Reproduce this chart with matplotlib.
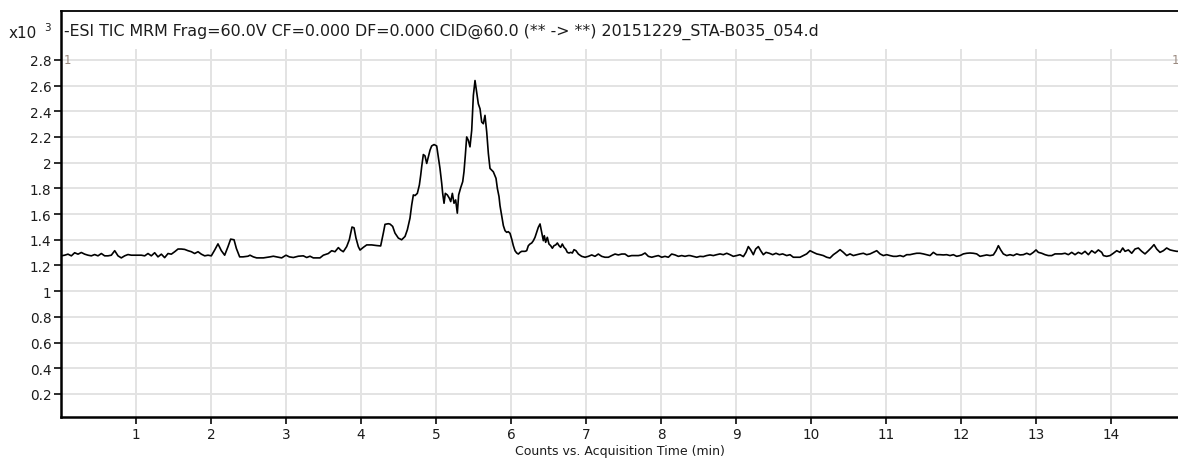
import matplotlib.pyplot as plt

# TIC trace: acquisition time (min) and counts (x10^3)
time_min = [
    0.004, 0.049, 0.093, 0.138, 0.182, 0.227, 0.271, 0.316, 0.36, 0.404,
    0.449, 0.493, 0.538, 0.582, 0.627, 0.671, 0.716, 0.76, 0.804, 0.849,
    0.893, 0.938, 0.982, 1.027, 1.071, 1.116, 1.16, 1.204, 1.249, 1.293,
    1.338, 1.382, 1.427, 1.471, 1.516, 1.56, 1.604, 1.649, 1.693, 1.738,
    1.782, 1.827, 1.871, 1.916, 1.96, 2.004, 2.049, 2.093, 2.138, 2.182,
    2.227, 2.262, 2.307, 2.338, 2.382, 2.427, 2.493,
    2.52, 2.564, 2.609, 2.698, 2.787, 2.831, 2.876, 2.942, 3.0, 3.044,
    3.098, 3.164, 3.231, 3.276, 3.32, 3.364, 3.453, 3.498, 3.564, 3.609,
    3.653, 3.698, 3.729, 3.764, 3.809, 3.844, 3.88, 3.907, 3.933, 3.964,
    3.987, 4.031, 4.076, 4.142, 4.209, 4.262, 4.298, 4.32, 4.364,
    4.387, 4.422, 4.453, 4.498, 4.542, 4.587, 4.618, 4.653, 4.676, 4.698,
    4.72, 4.751, 4.778, 4.796, 4.809, 4.831, 4.853, 4.876, 4.898, 4.92,
    4.942, 4.974, 5.009, 5.031, 5.053, 5.076, 5.089, 5.107, 5.124, 5.151,
    5.178, 5.196, 5.218, 5.24, 5.262, 5.284, 5.302, 5.329, 5.356, 5.373,
    5.391, 5.409, 5.431, 5.453, 5.476, 5.498, 5.52, 5.542, 5.564, 5.587,
    5.609, 5.631, 5.653, 5.676, 5.698, 5.72, 5.764, 5.8, 5.818, 5.84,
    5.853, 5.876, 5.898, 5.92, 5.942, 5.964, 5.987, 6.009, 6.031, 6.053,
    6.076, 6.098, 6.12, 6.142, 6.187, 6.209, 6.231, 6.253, 6.276, 6.298,
    6.32, 6.342, 6.364, 6.387, 6.409, 6.431, 6.444, 6.462, 6.484, 6.506,
    6.529, 6.551, 6.573, 6.596, 6.618, 6.64, 6.662, 6.684, 6.707, 6.729,
    6.751, 6.773, 6.796, 6.818, 6.84, 6.866, 6.898, 6.942, 6.987, 7.031,
    7.076, 7.12, 7.164, 7.209, 7.253, 7.298, 7.342, 7.387, 7.431, 7.476,
    7.52, 7.564, 7.609, 7.653, 7.698, 7.742, 7.787, 7.831, 7.876, 7.92,
    7.964, 8.009, 8.053, 8.098, 8.142, 8.187, 8.231, 8.276, 8.32, 8.364,
    8.387, 8.431, 8.476, 8.52, 8.564, 8.609, 8.653, 8.698, 8.742, 8.787,
    8.831, 8.876, 8.92, 8.964, 9.009, 9.053, 9.098, 9.133, 9.164, 9.196,
    9.231, 9.262, 9.298, 9.329, 9.364, 9.4, 9.444, 9.489, 9.533, 9.578,
    9.622, 9.676, 9.72, 9.764, 9.809, 9.853, 9.898, 9.942, 9.987, 10.031,
    10.076, 10.12, 10.164, 10.209, 10.253, 10.298, 10.342, 10.387, 10.431, 10.476,
    10.52, 10.564, 10.609, 10.653, 10.698, 10.742, 10.787, 10.831, 10.876, 10.92,
    10.964, 11.009, 11.053, 11.098, 11.142, 11.187, 11.231, 11.276, 11.32, 11.364,
    11.409, 11.453, 11.498, 11.542,
    11.587, 11.609, 11.631, 11.676, 11.72, 11.764, 11.809, 11.853, 11.898, 11.942,
    11.987, 12.031, 12.076, 12.12, 12.164, 12.209, 12.253, 12.298, 12.342, 12.387,
    12.431, 12.467, 12.498, 12.529, 12.564, 12.609, 12.653, 12.698, 12.742, 12.787,
    12.831, 12.876, 12.92, 12.964, 13.0, 13.031, 13.076, 13.12, 13.164, 13.209,
    13.253, 13.298, 13.342, 13.387, 13.431, 13.476, 13.52, 13.564, 13.609, 13.653,
    13.698, 13.742, 13.787, 13.831, 13.876, 13.898, 13.942, 13.987, 14.031, 14.076,
    14.12, 14.156, 14.187, 14.231, 14.276, 14.32, 14.364, 14.409, 14.453, 14.498,
    14.542, 14.573, 14.609, 14.653, 14.698, 14.742, 14.787, 14.831, 14.876, 14.911,
]
counts = [
    1.275, 1.280, 1.288, 1.275, 1.299, 1.288, 1.301, 1.288, 1.280, 1.275,
    1.285, 1.275, 1.293, 1.275, 1.275, 1.280, 1.315, 1.275, 1.259, 1.275,
    1.285, 1.280, 1.280, 1.280, 1.280, 1.275, 1.293, 1.275, 1.299, 1.267,
    1.288, 1.261, 1.293, 1.288, 1.307, 1.328, 1.328, 1.325, 1.315, 1.307,
    1.293, 1.307, 1.288, 1.275, 1.280, 1.275, 1.320, 1.368, 1.315, 1.280,
    1.347, 1.405, 1.400, 1.333, 1.267, 1.267, 1.272,
    1.280, 1.267, 1.259, 1.259, 1.267, 1.272, 1.267, 1.259, 1.280, 1.267,
    1.262, 1.272, 1.275, 1.262, 1.272, 1.259, 1.259, 1.280, 1.293, 1.315,
    1.307, 1.339, 1.320, 1.307, 1.347, 1.400, 1.499, 1.493, 1.413, 1.347,
    1.320, 1.341, 1.360, 1.360, 1.355, 1.352, 1.453, 1.520, 1.525,
    1.522, 1.504, 1.452, 1.413, 1.400, 1.426, 1.478, 1.568, 1.671, 1.749,
    1.744, 1.761, 1.826, 1.903, 1.968, 2.063, 2.053, 1.994, 2.045, 2.097,
    2.130, 2.141, 2.130, 2.045, 1.955, 1.839, 1.761, 1.684, 1.761, 1.749,
    1.723, 1.697, 1.761, 1.684, 1.710, 1.607, 1.749, 1.805, 1.852, 1.929,
    2.058, 2.200, 2.174, 2.123, 2.252, 2.523, 2.639, 2.548, 2.458, 2.419,
    2.316, 2.303, 2.368, 2.239, 2.071, 1.955, 1.929, 1.878, 1.800, 1.736,
    1.666, 1.588, 1.510, 1.471, 1.458, 1.463, 1.450, 1.406, 1.354, 1.315,
    1.297, 1.289, 1.302, 1.310, 1.310, 1.315, 1.354, 1.367, 1.375, 1.393,
    1.419, 1.458, 1.497, 1.523, 1.458, 1.393, 1.432, 1.380, 1.419, 1.367,
    1.354, 1.334, 1.354, 1.360, 1.375, 1.354, 1.341, 1.367, 1.341, 1.328,
    1.302, 1.297, 1.302, 1.297, 1.323, 1.315, 1.289, 1.271, 1.264, 1.271,
    1.282, 1.271, 1.289, 1.271, 1.264, 1.264, 1.277, 1.289, 1.282, 1.289,
    1.289, 1.271, 1.277, 1.277, 1.277, 1.282, 1.297, 1.271, 1.264, 1.271,
    1.277, 1.264, 1.271, 1.264, 1.289, 1.282, 1.271, 1.277, 1.271, 1.277,
    1.277, 1.271, 1.264, 1.271, 1.269, 1.277, 1.282, 1.277, 1.284, 1.290,
    1.284, 1.295, 1.284, 1.271, 1.277, 1.284, 1.269, 1.302, 1.347, 1.321,
    1.284, 1.328, 1.347, 1.315, 1.284, 1.302, 1.295, 1.284, 1.295, 1.284,
    1.290, 1.277, 1.284, 1.264, 1.264, 1.264, 1.277, 1.290, 1.315, 1.302,
    1.290, 1.284, 1.277, 1.264, 1.258, 1.284, 1.302, 1.323, 1.302, 1.277,
    1.290, 1.277, 1.284, 1.290, 1.295, 1.284, 1.290, 1.302, 1.315, 1.290,
    1.277, 1.284, 1.277, 1.271, 1.271, 1.277, 1.269, 1.284, 1.284, 1.290,
    1.295, 1.295, 1.290, 1.284,
    1.277, 1.290, 1.302, 1.284, 1.284, 1.282, 1.284, 1.277, 1.284, 1.271,
    1.277, 1.290, 1.295, 1.297, 1.295, 1.290, 1.271, 1.277, 1.282, 1.277,
    1.282, 1.315, 1.354, 1.321, 1.290, 1.277, 1.284, 1.277, 1.290, 1.282,
    1.284, 1.295, 1.284, 1.302, 1.321, 1.302, 1.295, 1.284, 1.277, 1.277,
    1.290, 1.290, 1.290, 1.295, 1.284, 1.302, 1.284, 1.302, 1.290, 1.310,
    1.284, 1.315, 1.297, 1.321, 1.302, 1.277, 1.271, 1.277, 1.295, 1.315,
    1.302, 1.336, 1.310, 1.321, 1.295, 1.328, 1.336, 1.310, 1.290, 1.315,
    1.341, 1.362, 1.328, 1.302, 1.315, 1.336, 1.321, 1.315, 1.310, 1.310,
]

x_ticks = list(range(1, 15))
y_ticks = [0.2, 0.4, 0.6, 0.8, 1, 1.2, 1.4, 1.6, 1.8, 2, 2.2, 2.4, 2.6, 2.8]

title = "-ESI TIC MRM Frag=60.0V CF=0.000 DF=0.000 CID@60.0 (** -> **) 20151229_STA-B035_054.d"

W, H = 1178, 464
fig = plt.figure(figsize=(W / 100, H / 100), dpi=100)
ax = fig.add_axes([61 / W, 46 / H, (W - 61) / W, 406 / H])

x_max = 14.893
y_min, y_max = 0.021, 3.18
grid_top = 2.885
grid_col = "#e3e3e3"
text_col = "#1c1c1c"

ax.hlines(y_ticks, 0, x_max, color=grid_col, lw=1.4, zorder=0)
ax.vlines(x_ticks, y_min, grid_top, color=grid_col, lw=1.4, zorder=0)

ax.plot(time_min, counts, color="black", lw=1.2, zorder=3)

ax.set_xlim(0, x_max)
ax.set_ylim(y_min, y_max)
ax.set_xticks(x_ticks)
ax.set_yticks(y_ticks)
ax.set_yticklabels([f"{v:g}" for v in y_ticks])
ax.tick_params(axis="both", direction="out", length=5, width=1.3,
               labelsize=9.8, colors=text_col, pad=2)

for side in ("left", "bottom"):
    ax.spines[side].set_linewidth(1.8)
ax.spines["top"].set_linewidth(1.3)
ax.spines["right"].set_visible(False)

ax.set_xlabel("Counts vs. Acquisition Time (min)", fontsize=9,
              color=text_col, labelpad=2.5)

fig.text(64 / W, 1 - 32 / H, title, fontsize=11.4, color=text_col,
         va="center", ha="left")
fig.text(9 / W, 1 - 33 / H, "x10", fontsize=11, color=text_col,
         va="center", ha="left")
fig.text(44 / W, 1 - 28 / H, "3", fontsize=7.5, color=text_col,
         va="center", ha="left")

# scan segment markers
fig.text(64 / W, 1 - 61 / H, "1", fontsize=8.5, color="#9a8a80",
         va="center", ha="left")
fig.text(1172 / W, 1 - 61 / H, "1", fontsize=8.5, color="#9a8a80",
         va="center", ha="left")

fig.savefig("out.png", dpi=100)
